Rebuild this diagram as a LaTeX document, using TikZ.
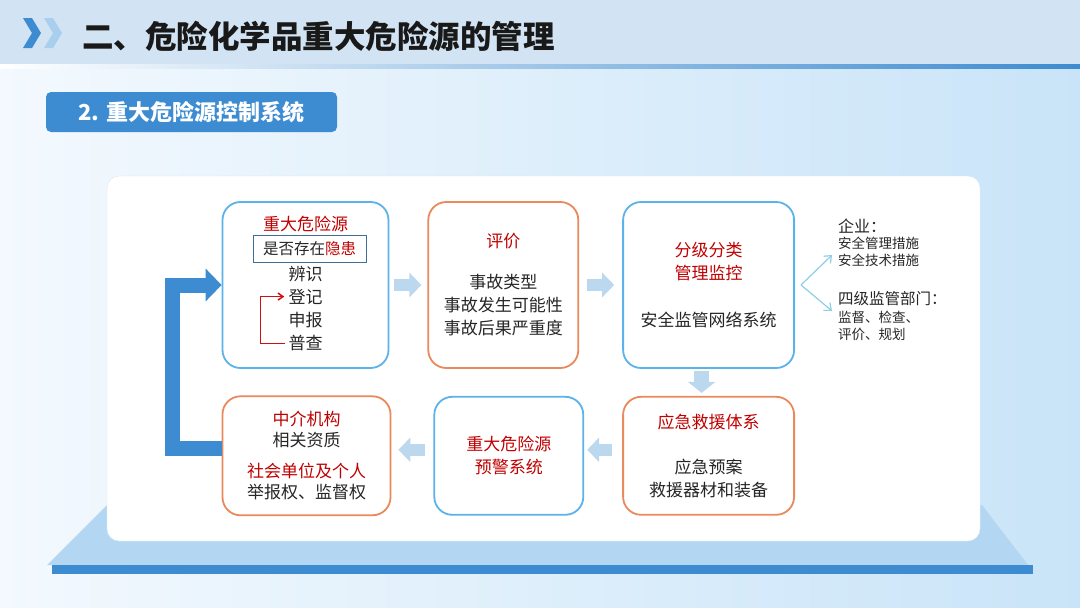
\documentclass[tikz,border=0pt]{standalone}
\usepackage{fontspec}
\setmainfont{Noto Sans CJK SC}
\usetikzlibrary{arrows.meta, positioning, calc}

\definecolor{barblue}{HTML}{3D8BD0}
\definecolor{chevlight}{HTML}{A9CFEE}
\definecolor{hdrblue}{HTML}{D2E4F4}
\definecolor{lightarr}{HTML}{BCD8EF}
\definecolor{frameblue}{HTML}{5CB2EA}
\definecolor{frameorange}{HTML}{E88A5B}
\definecolor{darkred}{HTML}{C00000}
\definecolor{brightred}{HTML}{D01010}
\definecolor{txtgray}{HTML}{262626}
\definecolor{forkblue}{HTML}{8ECFE6}
\definecolor{hzframe}{HTML}{3F6F96}
\definecolor{bgleft}{HTML}{F3F9FE}
\definecolor{bgright}{HTML}{C9E4F8}
\definecolor{platform}{HTML}{B3D7F2}
\definecolor{cardline}{HTML}{D8E7F4}

\newcommand{\hlt}[1]{\textcolor{darkred}{#1}}

\begin{document}
\begin{tikzpicture}[x=1pt, y=-1pt,
    bluebox/.style={draw=frameblue, line width=1.8pt, rounded corners=18pt, fill=white,
                    inner sep=0pt, align=center, font=\fontsize{17}{23}\selectfont, text=txtgray},
    orangebox/.style={bluebox, draw=frameorange},
    lbl/.style={inner sep=0pt, font=\fontsize{17}{23}\selectfont, text=txtgray},
    note/.style={inner sep=0pt, anchor=west, align=left, text=txtgray, font=\fontsize{13.5}{17}\selectfont},
    lbarr/.style={-{Triangle[width=24pt,length=12pt]}, line width=12pt, color=lightarr},
    bigarr/.style={-{Triangle[width=32pt,length=16pt]}, line width=15pt, color=barblue},
    forkarr/.style={-{Straight Barb[length=6pt,width=10pt]}, line width=1.2pt, color=forkblue},
    redarr/.style={-{Straight Barb[length=5pt,width=7pt]}, line width=1.5pt, color=brightred},
    node distance=27pt and 38pt
]
\useasboundingbox (0,0) rectangle (1080,608);

% background and header
\shade[left color=bgleft, right color=bgright] (0,0) rectangle (1080,608);
\fill[hdrblue] (0,0) rectangle (1080,65);
\shade[left color=white, right color=barblue] (0,64) rectangle (1080,68);
\fill[barblue] (23,18) -- (32,18) -- (41,33) -- (32,48) -- (23,48) -- (32,33) -- cycle;
\fill[chevlight] (44,18) -- (53,18) -- (62,33) -- (53,48) -- (44,48) -- (53,33) -- cycle;
\node[anchor=west, inner sep=0pt, font=\fontsize{31.5}{32}\selectfont\bfseries, text=black!90] (title) at (82,36) {二、危险化学品重大危险源的管理};
\node[fill=barblue, rounded corners=5pt, minimum width=291pt, minimum height=40pt, inner sep=0pt,
      text=white, font=\fontsize{22}{22}\selectfont\bfseries] (sub) at (191.5,112) {2. 重大危险源控制系统};

% platform and card
\fill[platform] (47,565) -- (107,505) -- (982,505) -- (1028,565) -- cycle;
\fill[barblue] (52,565) rectangle (1033,574);
\draw[cardline, fill=white, rounded corners=12pt] (107,176) rectangle (980,541);

% boxes
\node[bluebox, minimum width=166pt, minimum height=166pt] (b1) at (305.5,285) {};
\node[orangebox, minimum width=150pt, minimum height=166pt, right=38pt of b1] (b2)
    {\hlt{评价}\\[18pt]事故类型\\事故发生可能性\\事故后果严重度};
\node[bluebox, minimum width=171pt, minimum height=166pt, right=43pt of b2] (b3)
    {\hlt{分级分类}\\\hlt{管理监控}\\[24pt]安全监管网络系统};
\node[orangebox, minimum width=171pt, minimum height=118pt, below=27pt of b3] (b6)
    {\hlt{应急救援体系}\\[22pt]应急预案\\救援器材和装备};
\node[bluebox, minimum width=149pt, minimum height=118pt, left=38pt of b6] (b5)
    {\hlt{重大危险源}\\\hlt{预警系统}};
\node[orangebox, minimum width=168pt, minimum height=119pt, left=42pt of b5, font=\fontsize{17}{21}\selectfont] (b4)
    {\hlt{中介机构}\\相关资质\\[10pt]\hlt{社会单位及个人}\\举报权、监督权};

% inside box 1
\node[lbl, text=darkred] (b1t) at ([yshift=-23pt]b1.north) {重大危险源};
\node[lbl, draw=hzframe, line width=1pt, minimum width=113pt, minimum height=27pt,
      font=\fontsize{15.5}{18}\selectfont] (hz) at ([xshift=4pt,yshift=-48pt]b1.north) {是否存在\hlt{隐患}};
\node[lbl] (bs) at ([yshift=-73pt]b1.north) {辨识};
\node[lbl] (dj) at ([yshift=-96pt]b1.north) {登记};
\node[lbl] (sb) at ([yshift=-119pt]b1.north) {申报};
\node[lbl] (pc) at ([yshift=-142pt]b1.north) {普查};

% arrows between boxes
\draw[lbarr, shorten <=5pt, shorten >=6pt] (b1) -- (b2);
\draw[lbarr, shorten <=8pt, shorten >=8pt] (b2) -- (b3);
\draw[lbarr, line width=15pt, -{Triangle[width=27pt,length=11pt]}, shorten <=2pt, shorten >=3pt]
    ([xshift=-7pt]b3.south) -- ([xshift=-7pt]b6.north);
\draw[lbarr, shorten <=10pt, shorten >=3pt] ([yshift=6pt]b6.west) -- ([yshift=6pt]b5.east);
\draw[lbarr, shorten <=8pt, shorten >=7pt] ([yshift=6pt]b5.west) -- ([yshift=6pt]b4.east);
\draw[bigarr] ([yshift=7pt]b4.west) -- ++(-49,0) |- (b1.west);
\draw[redarr] ([xshift=-3pt,yshift=-0.5pt]pc.west) -- ++(-25,0) |- ([xshift=-4pt,yshift=0.5pt]dj.west);

% notes on the right
\node[note, font=\fontsize{16}{18}\selectfont] (ent) at (838,226) {企业：};
\node[note, anchor=north west] (entm) at (838,237) {安全管理措施\\安全技术措施};
\node[note, font=\fontsize{15.5}{18}\selectfont] (dept) at (838,299) {四级监管部门：};
\node[note, anchor=north west] (deptm) at (838,311) {监督、检查、\\评价、规划};
\coordinate (fork) at ([xshift=6pt]b3.east);
\draw[forkarr] (fork) -- ([xshift=-6pt,yshift=-3pt]entm.west);
\draw[forkarr] (fork) -- ([xshift=-6pt]deptm.north west);
\end{tikzpicture}
\end{document}
